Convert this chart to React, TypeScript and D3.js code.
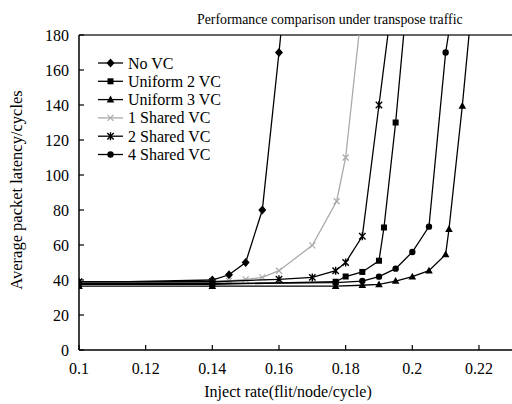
import React from "react";
import * as d3 from "d3";

const W = 512;
const H = 404;

const title = "Performance comparison under transpose traffic";
const xLabel = "Inject rate(flit/node/cycle)";
const yLabel = "Average packet latency/cycles";

const xTicks = [0.1, 0.12, 0.14, 0.16, 0.18, 0.2, 0.22];
const xTickLabels = ["0.1", "0.12", "0.14", "0.16", "0.18", "0.2", "0.22"];
const yTicks = [0, 20, 40, 60, 80, 100, 120, 140, 160, 180];

const seriesNames = ["No VC", "Uniform 2 VC", "Uniform 3 VC", "1 Shared VC", "2 Shared VC", "4 Shared VC"];

const noVcX = [0.1, 0.14, 0.145, 0.15, 0.155, 0.16, 0.165];
const noVcY = [38.5, 40, 43, 50, 80, 170, 265];

const uni2X = [0.1, 0.14, 0.177, 0.18, 0.185, 0.19, 0.1915, 0.195, 0.2];
const uni2Y = [37.5, 37.5, 39, 42, 44.6, 51, 70, 130, 234];

const uni3X = [0.1, 0.14, 0.177, 0.185, 0.19, 0.195, 0.2, 0.205, 0.21, 0.211, 0.215, 0.22];
const uni3Y = [36.5, 36.5, 36.5, 37, 37.5, 39.4, 41.9, 45.3, 54.6, 69, 139.4, 240];

const sh1X = [0.1, 0.14, 0.145, 0.15, 0.155, 0.16, 0.17, 0.1773, 0.18, 0.185];
const sh1Y = [38.5, 39, 39.5, 40.4, 41.5, 45.3, 59.8, 85, 110, 198];

const sh2X = [0.1, 0.14, 0.16, 0.17, 0.177, 0.18, 0.185, 0.19, 0.195];
const sh2Y = [39, 39, 40.4, 41.5, 45.3, 50, 65, 140, 215];

const sh4X = [0.1, 0.14, 0.177, 0.185, 0.19, 0.195, 0.2, 0.205, 0.21, 0.215];
const sh4Y = [38, 38, 38.5, 39.4, 41.9, 46.5, 56, 70.5, 170, 230];

const seriesX = [noVcX, uni2X, uni3X, sh1X, sh2X, sh4X];
const seriesY = [noVcY, uni2Y, uni3Y, sh1Y, sh2Y, sh4Y];
const seriesColor = ["#000", "#000", "#000", "#aaa", "#000", "#000"];
const seriesMarker = ["diamond", "square", "triangle", "x", "asterisk", "circle"];

const left = 79, right = 512.3, top = 35, bottom = 350;
const FONT = "Liberation Serif, Tinos, Times New Roman, DejaVu Serif, Noto Serif, serif";

function Marker({ type, x, y, color }: { type: string; x: number; y: number; color: string }) {
  switch (type) {
    case "diamond":
      return <path d={`M${x},${y - 4.5}L${x + 4},${y}L${x},${y + 4.5}L${x - 4},${y}Z`} fill={color} />;
    case "square":
      return <rect x={x - 3} y={y - 3} width={6} height={6} fill={color} />;
    case "triangle":
      return <path d={`M${x},${y - 4}L${x + 3.8},${y + 2.8}L${x - 3.8},${y + 2.8}Z`} fill={color} />;
    case "x":
      return <path d={`M${x - 3},${y - 3}L${x + 3},${y + 3}M${x - 3},${y + 3}L${x + 3},${y - 3}`} stroke={color} strokeWidth={1.2} />;
    case "asterisk":
      return (
        <path
          d={`M${x - 3.2},${y - 3.2}L${x + 3.2},${y + 3.2}M${x - 3.2},${y + 3.2}L${x + 3.2},${y - 3.2}M${x},${y - 4}L${x},${y + 4}`}
          stroke={color}
          strokeWidth={1.4}
        />
      );
    case "circle":
      return <circle cx={x} cy={y} r={3.2} fill={color} />;
    default:
      return null;
  }
}

export default function App() {
  const xs = d3.scaleLinear().domain([0.1, 0.23]).range([left, right]);
  const ys = d3.scaleLinear().domain([0, 180]).range([bottom, top]);

  const line = d3
    .line<[number, number]>()
    .x((d) => xs(d[0]))
    .y((d) => ys(d[1]));

  const legendX0 = 98, legendX1 = 123, legendTextX = 128, legendY0 = 63, legendDy = 18.3;
  const ts = { fontFamily: FONT };

  return (
    <svg width={W} height={H} style={{ position: "absolute", left: 0, top: 0, background: "#fff", fontFamily: FONT }}>
      <defs>
        <clipPath id="plotclip">
          <rect x={left} y={top} width={right - left} height={bottom - top} />
        </clipPath>
      </defs>
      <rect x={0} y={0} width={W} height={H} fill="#fff" />
      <text x={197} y={24} fontSize={13.8} fill="#000" style={ts}>{title}</text>

      <line x1={left} x2={W} y1={top} y2={top} stroke="#333" strokeWidth={1.5} />

      <line x1={left} x2={left} y1={top} y2={bottom} stroke="#000" strokeWidth={1.5} />
      <line x1={left} x2={W} y1={bottom} y2={bottom} stroke="#000" strokeWidth={1.5} />

      {xTicks.map((t, i) => (
        <g key={"xt" + i}>
          <line x1={xs(t)} x2={xs(t)} y1={bottom} y2={bottom - 5} stroke="#000" strokeWidth={1.2} />
          <text x={xs(t)} y={374} fontSize={16} textAnchor="middle" fill="#000" style={ts}>{xTickLabels[i]}</text>
        </g>
      ))}
      {yTicks.map((t, i) => (
        <g key={"yt" + i}>
          <line x1={left} x2={left + 5} y1={ys(t)} y2={ys(t)} stroke="#000" strokeWidth={1.2} />
          <text x={69} y={ys(t) + 5.5} fontSize={16} textAnchor="end" fill="#000" style={ts}>{t}</text>
        </g>
      ))}

      <text x={288} y={397} fontSize={16} textAnchor="middle" fill="#000" style={ts}>{xLabel}</text>
      <text transform={`translate(22,${190}) rotate(-90)`} fontSize={16.5} textAnchor="middle" fill="#000" style={ts}>{yLabel}</text>

      <g clipPath="url(#plotclip)">
        {seriesNames.map((name, si) => {
          const pts: [number, number][] = seriesX[si].map((x, j) => [x, seriesY[si][j]]);
          return (
            <g key={name}>
              <path d={line(pts) || ""} fill="none" stroke={seriesColor[si]} strokeWidth={1.3} />
              {pts
                .filter((p) => p[1] <= 180)
                .map((p, j) => (
                  <Marker key={j} type={seriesMarker[si]} x={xs(p[0])} y={ys(p[1])} color={seriesColor[si]} />
                ))}
            </g>
          );
        })}
      </g>

      {seriesNames.map((name, si) => {
        const y = legendY0 + si * legendDy;
        return (
          <g key={"lg" + si}>
            <line x1={legendX0} x2={legendX1} y1={y} y2={y} stroke={seriesColor[si]} strokeWidth={1.3} />
            <Marker type={seriesMarker[si]} x={(legendX0 + legendX1) / 2} y={y} color={seriesColor[si]} />
            <text x={legendTextX} y={y + 5.5} fontSize={16} fill="#000" style={ts}>{name}</text>
          </g>
        );
      })}
    </svg>
  );
}
